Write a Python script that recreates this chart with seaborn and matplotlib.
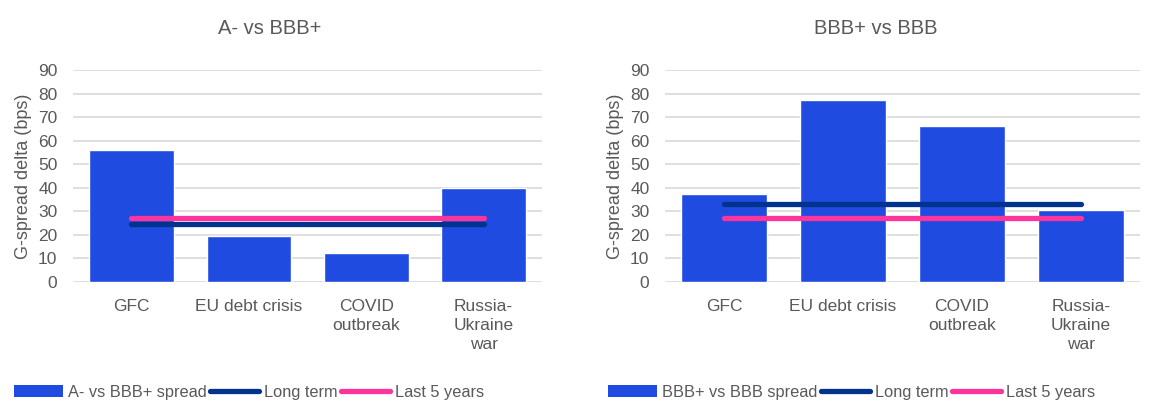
import numpy as np
import matplotlib
matplotlib.use("Agg")
import matplotlib.pyplot as plt
import seaborn as sns
from matplotlib.patches import Patch
from matplotlib.lines import Line2D

TICK_SIZE = 12.5
LEGEND_SIZE = 11.8
TITLE_SIZE = 14.5
TEXT_COLOR = "#595959"
BAR_COLOR = "#1F4BE0"
LONG_COLOR = "#00338D"
LAST5_COLOR = "#FD349C"

categories = ["GFC", "EU debt crisis", "COVID\noutbreak", "Russia-\nUkraine\nwar"]

a_bbbp_spread = [56, 19.4, 12.4, 39.8]
a_bbbp_long_term = [24.8, 24.8, 24.8, 24.8]
a_bbbp_last5 = [27.0, 27.0, 27.0, 27.0]

bbbp_bbb_spread = [37.2, 77.3, 66.1, 30.4]
bbbp_bbb_long_term = [33.3, 33.3, 33.3, 33.3]
bbbp_bbb_last5 = [27.0, 27.0, 27.0, 27.0]

panels = [
    ("A- vs BBB+", "A- vs BBB+ spread", a_bbbp_spread, a_bbbp_long_term, a_bbbp_last5),
    ("BBB+ vs BBB", "BBB+ vs BBB spread", bbbp_bbb_spread, bbbp_bbb_long_term, bbbp_bbb_last5),
]

sns.set_theme(style="white")
plt.rcParams["font.family"] = ["Liberation Sans", "DejaVu Sans"]

fig = plt.figure(figsize=(11.54, 4), dpi=100)
axes_rects = [[0.063, 0.295, 0.407, 0.530], [0.576, 0.295, 0.412, 0.530]]
title_x = [0.234, 0.759]
legend_x = [0.216, 0.738]

for i, (title, spread_label, spread, long_term, last5) in enumerate(panels):
    ax = fig.add_axes(axes_rects[i])
    sns.barplot(x=categories, y=spread, color=BAR_COLOR, width=0.72,
                saturation=1, ax=ax, zorder=2)
    xs = np.arange(len(categories))
    ax.plot(xs, long_term, color=LONG_COLOR, lw=3.8, solid_capstyle="round", zorder=3)
    ax.plot(xs, last5, color=LAST5_COLOR, lw=3.8, solid_capstyle="round", zorder=4)

    ax.set_xlim(-0.5, 3.5)
    ax.set_ylim(0, 90)
    ax.set_yticks(range(0, 91, 10))
    ax.yaxis.grid(True, color="#D9D9D9", lw=1.2, zorder=0)
    ax.set_axisbelow(True)
    for s in ax.spines.values():
        s.set_visible(False)
    ax.tick_params(axis="both", length=0, labelsize=TICK_SIZE, colors=TEXT_COLOR)
    ax.tick_params(axis="x", pad=12)
    ax.tick_params(axis="y", pad=11)
    for lbl in ax.get_xticklabels():
        lbl.set_linespacing(1.35)
    ax.set_ylabel("G-spread delta (bps)", fontsize=13, color=TEXT_COLOR, labelpad=4)
    ax.set_xlabel("")

    fig.text(title_x[i], 0.93, title, ha="center", va="center",
             fontsize=TITLE_SIZE, color=TEXT_COLOR)

    handles = [
        Patch(facecolor=BAR_COLOR, edgecolor="none"),
        Line2D([0], [0], color=LONG_COLOR, lw=3.8, solid_capstyle="round"),
        Line2D([0], [0], color=LAST5_COLOR, lw=3.8, solid_capstyle="round"),
    ]
    labels = [spread_label, "Long term", "Last 5 years"]
    ax.legend(handles, labels, loc="center", bbox_to_anchor=(legend_x[i], 0.02),
              bbox_transform=fig.transFigure, ncol=3, frameon=False,
              fontsize=LEGEND_SIZE, labelcolor=TEXT_COLOR, handlelength=3.0,
              handleheight=0.8, handletextpad=0.3, columnspacing=0.2,
              borderaxespad=0, borderpad=0)

fig.savefig("out.png", dpi=100)
plt.close(fig)
